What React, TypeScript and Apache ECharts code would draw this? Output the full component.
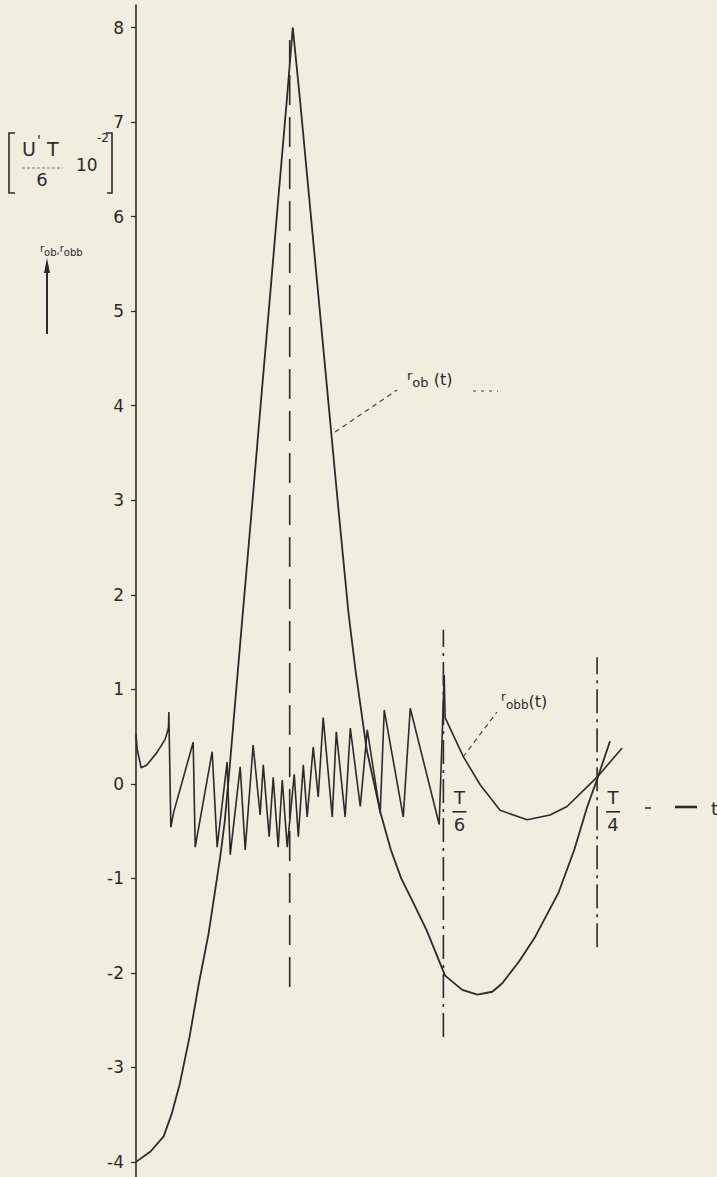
import React, { useEffect, useRef } from "react";
import * as echarts from "echarts";

// ---- data (t in units of T, values in U'T/6 * 10^-2) ----
const yTickValues = [-4, -3, -2, -1, 0, 1, 2, 3, 4, 5, 6, 7, 8];
const xTickValues = [1 / 6, 1 / 4];
const xTickNumerators = ["T", "T"];
const xTickDenominators = ["6", "4"];

const rObTime = [
  0, 0.0079, 0.015, 0.0194, 0.0238, 0.029, 0.0341, 0.0393, 0.0425, 0.0456, 0.0481, 0.0508,
  0.0562, 0.0632, 0.0678, 0.0725, 0.0771, 0.0818, 0.085, 0.0889, 0.094, 0.0991, 0.1042,
  0.1093, 0.1152, 0.1191, 0.1251, 0.1326, 0.1382, 0.1438, 0.1504, 0.1576, 0.1676, 0.1769,
  0.1851, 0.1932, 0.1986, 0.2077, 0.2164, 0.2289, 0.2376, 0.2447, 0.2499, 0.257,
];
const rObValue = [
  -4.0, -3.89, -3.73, -3.49, -3.17, -2.68, -2.11, -1.59, -1.18, -0.78, -0.4, 0.18,
  1.42, 3.0, 4.06, 5.12, 6.18, 7.24, 8.0, 7.24, 6.18, 5.12, 4.06,
  3.0, 1.81, 1.19, 0.36, -0.31, -0.7, -1.0, -1.26, -1.55, -2.03, -2.18,
  -2.23, -2.2, -2.11, -1.88, -1.62, -1.16, -0.7, -0.24, 0.04, 0.45,
];

const rObbTime = [
  0, 0.0007, 0.0028, 0.0059, 0.0113, 0.0158, 0.0176, 0.0178, 0.0189, 0.0203, 0.031, 0.0321,
  0.0413, 0.044, 0.0494, 0.0511, 0.0565, 0.0592, 0.0635, 0.0673, 0.069, 0.0722, 0.0744,
  0.0771, 0.0793, 0.082, 0.0858, 0.088, 0.0907, 0.0928, 0.0961, 0.0988, 0.1015, 0.1064,
  0.1086, 0.1134, 0.1162, 0.1216, 0.1254, 0.1324, 0.1346, 0.1449, 0.1487, 0.1644, 0.1671,
  0.1676, 0.1774, 0.1866, 0.1974, 0.2121, 0.2245, 0.2337, 0.25, 0.2636,
];
const rObbValue = [
  0.52, 0.36, 0.17, 0.2, 0.33, 0.47, 0.59, 0.76, -0.46, -0.31, 0.44, -0.67,
  0.34, -0.67, 0.23, -0.75, 0.18, -0.7, 0.41, -0.33, 0.2, -0.56, 0.07,
  -0.67, 0.04, -0.67, 0.1, -0.56, 0.2, -0.35, 0.39, -0.14, 0.7, -0.35,
  0.55, -0.35, 0.59, -0.24, 0.57, -0.31, 0.78, -0.35, 0.8, -0.43, 1.15,
  0.7, 0.29, -0.01, -0.28, -0.38, -0.33, -0.24, 0.07, 0.38,
];

const guideTime = [1 / 12, 1 / 6, 1 / 4];
const guideLow = [-2.15, -2.68, -1.73];
const guideHigh = [7.87, 1.63, 1.34];

const INK = "#2b2b2b";
const BG = "#f0eedf";
const FONT = "DejaVu Sans";

const zip = (a: number[], b: number[]) => a.map((x, i) => [x, b[i]]);

export default function App() {
  const ref = useRef<HTMLDivElement>(null);
  useEffect(() => {
    document.body.style.margin = "0";
    const chart = echarts.init(ref.current!, null, { renderer: "svg" });

    const guideSeries = guideTime.map((t, i) => ({
      type: "line",
      silent: true,
      showSymbol: false,
      data: [
        [t, guideLow[i]],
        [t, guideHigh[i]],
      ],
      lineStyle: {
        color: INK,
        width: 1.6,
        type: i === 0 ? [30, 12] : [24, 6, 3, 6],
      },
      z: 2,
    }));

    const leader = (x1: number, y1: number, x2: number, y2: number, dash = [5, 4]) => ({
      type: "line",
      shape: { x1, y1, x2, y2 },
      style: { stroke: "#444", lineWidth: 1.2, lineDash: dash },
    });
    const txt = (x: number, y: number, text: string, fontSize: number, align = "left", extra = {}) => ({
      type: "text",
      x,
      y,
      style: { text, fill: INK, fontSize, fontFamily: FONT, align, verticalAlign: "middle", ...extra },
    });

    chart.setOption({
      animation: false,
      backgroundColor: BG,
      grid: { left: 136, top: 5, width: 553.3, height: 1172, outerBoundsMode: "none", containLabel: false },
      xAxis: {
        type: "value",
        min: 0,
        max: 0.3,
        axisLine: { show: false },
        axisTick: { show: false },
        splitLine: { show: false },
        axisLabel: { show: false },
      },
      yAxis: {
        type: "value",
        min: -4.16,
        max: 8.24,
        axisLine: { show: true, onZero: false, lineStyle: { color: INK, width: 1.6 } },
        axisTick: { show: true, customValues: yTickValues, length: 5, lineStyle: { color: INK, width: 1.2 } },
        axisLabel: { customValues: yTickValues, color: "#2a2a2a", fontSize: 17, fontFamily: FONT, margin: 12 },
        splitLine: { show: false },
      },
      series: [
        {
          name: "r_ob(t)",
          type: "line",
          silent: true,
          showSymbol: false,
          data: zip(rObTime, rObValue),
          lineStyle: { color: INK, width: 1.8 },
          z: 3,
        },
        {
          name: "r_obb(t)",
          type: "line",
          silent: true,
          showSymbol: false,
          data: zip(rObbTime, rObbValue),
          lineStyle: { color: INK, width: 1.6 },
          z: 3,
        },
        ...guideSeries,
      ],
    });

    // time-axis fraction labels (T/6, T/4) placed at their data positions
    const fractionLabels: any[] = [];
    xTickValues.forEach((t, i) => {
      const [px, py] = chart.convertToPixel({ gridIndex: 0 }, [t, 0]) as number[];
      const cx = px + 16;
      fractionLabels.push(txt(cx, py + 14, xTickNumerators[i], 18, "center"));
      fractionLabels.push({
        type: "line",
        shape: { x1: cx - 7, y1: py + 28, x2: cx + 7, y2: py + 28 },
        style: { stroke: INK, lineWidth: 1.6 },
      });
      fractionLabels.push(txt(cx, py + 41, xTickDenominators[i], 18, "center"));
    });

    chart.setOption({
      graphic: [
        // y-axis unit bracket
        { type: "polyline", shape: { points: [[15, 133], [9, 133], [9, 193], [15, 193]] }, style: { stroke: INK, lineWidth: 1.6, fill: "none" } },
        { type: "polyline", shape: { points: [[106, 133], [112, 133], [112, 193], [107, 193]] }, style: { stroke: INK, lineWidth: 1.6, fill: "none" } },
        txt(22, 149, "U", 19),
        txt(37, 140, "'", 14),
        txt(47, 149, "T", 19),
        { type: "line", shape: { x1: 22, y1: 168, x2: 63, y2: 168 }, style: { stroke: "#777", lineWidth: 1, lineDash: [3, 2] } },
        txt(42, 179, "6", 18, "center"),
        txt(76, 165, "10", 17),
        txt(97, 138, "-2", 12),
        {
          type: "text",
          x: 40,
          y: 250,
          style: {
            text: "{r|r}{s|ob}{c|,}{r|r}{s|obb}",
            fill: INK,
            fontFamily: FONT,
            verticalAlign: "middle",
            rich: {
              r: { fontSize: 10, fontFamily: FONT, fill: INK, verticalAlign: "top", lineHeight: 14 },
              s: { fontSize: 10, fontFamily: FONT, fill: INK, verticalAlign: "bottom", lineHeight: 14 },
              c: { fontSize: 10, fontFamily: FONT, fill: INK, lineHeight: 14 },
            },
          },
        },
        { type: "line", shape: { x1: 47, y1: 334, x2: 47, y2: 268 }, style: { stroke: INK, lineWidth: 2 } },
        { type: "polygon", shape: { points: [[47, 258], [44, 273], [50, 273]] }, style: { fill: INK } },
        // r_ob annotation
        leader(335, 432, 397, 390),
        {
          type: "text",
          x: 407,
          y: 379,
          style: {
            text: "{r|r}{s|ob}{p| (t)}",
            fill: INK,
            fontFamily: FONT,
            verticalAlign: "middle",
            rich: {
              r: { fontSize: 13, fontFamily: FONT, fill: INK, verticalAlign: "top", lineHeight: 20 },
              s: { fontSize: 13, fontFamily: FONT, fill: INK, verticalAlign: "bottom", lineHeight: 20 },
              p: { fontSize: 16, fontFamily: FONT, fill: INK, lineHeight: 20 },
            },
          },
        },
        leader(473, 391, 498, 391, [3, 5]),
        // r_obb annotation
        leader(463, 757, 497, 712),
        {
          type: "text",
          x: 501,
          y: 701,
          style: {
            text: "{r|r}{s|obb}{p|(t)}",
            fill: INK,
            fontFamily: FONT,
            verticalAlign: "middle",
            rich: {
              r: { fontSize: 12, fontFamily: FONT, fill: INK, verticalAlign: "top", lineHeight: 20 },
              s: { fontSize: 12, fontFamily: FONT, fill: INK, verticalAlign: "bottom", lineHeight: 20 },
              p: { fontSize: 16, fontFamily: FONT, fill: INK, lineHeight: 20 },
            },
          },
        },
        ...fractionLabels,
        // t axis arrow
        { type: "line", shape: { x1: 645, y1: 808, x2: 651, y2: 808 }, style: { stroke: INK, lineWidth: 1.5 } },
        { type: "line", shape: { x1: 675, y1: 807, x2: 697, y2: 807 }, style: { stroke: INK, lineWidth: 2.6 } },
        txt(711, 808, "t", 18),
      ],
    });
    return () => chart.dispose();
  }, []);
  return <div ref={ref} style={{ width: 717, height: 1177, background: BG }} />;
}
